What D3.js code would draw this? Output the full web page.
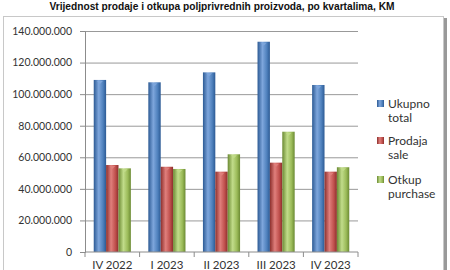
<!DOCTYPE html>
<html>
<head>
<meta charset="utf-8">
<script src="https://cdn.jsdelivr.net/npm/d3@7"></script>
<style>
body { margin: 0; background: #fff; }
text { font-family: Lato, "Open Sans", sans-serif; fill: #333; }
</style>
</head>
<body>
<div id="chart"></div>
<script>
// data
const quarters = ["IV 2022", "I 2023", "II 2023", "III 2023", "IV 2023"];
const ukupno = [109000000, 107500000, 113800000, 133200000, 105800000];
const prodaja = [55100000, 54000000, 50900000, 56600000, 50900000];
const otkup = [53000000, 52600000, 61900000, 76200000, 53700000];
const seriesNames = [["Ukupno", "total"], ["Prodaja", "sale"], ["Otkup", "purchase"]];
const yTicks = [0, 20000000, 40000000, 60000000, 80000000, 100000000, 120000000, 140000000];

const W = 450, H = 270;
const margin = {top: 31, left: 85, right: 92, bottom: 18};
const width = W - margin.left - margin.right;
const height = H - margin.top - margin.bottom;

const svg = d3.select("#chart").append("svg")
  .attr("width", W).attr("height", H);

// gradients for the cylinder look
const colors = [
  {id: "gBlue", base: "#4F81BD", dark: "#2c5a94", light: "#7ea6dc"},
  {id: "gRed", base: "#C0504D", dark: "#8c2f2c", light: "#e07f7c"},
  {id: "gGreen", base: "#9BBB59", dark: "#6b8a33", light: "#c1dc8a"}
];
const defs = svg.append("defs");
colors.forEach(c => {
  const g = defs.append("linearGradient").attr("id", c.id)
    .attr("x1", "0%").attr("x2", "100%").attr("y1", "0%").attr("y2", "0%");
  g.append("stop").attr("offset", "0%").attr("stop-color", c.dark);
  g.append("stop").attr("offset", "40%").attr("stop-color", c.light);
  g.append("stop").attr("offset", "75%").attr("stop-color", c.base);
  g.append("stop").attr("offset", "100%").attr("stop-color", c.dark);
});

// title
svg.append("text")
  .attr("x", 222).attr("y", 10)
  .attr("text-anchor", "middle")
  .attr("textLength", 345).attr("lengthAdjust", "spacingAndGlyphs")
  .style("font-family", "'Liberation Sans', Arial, sans-serif")
  .style("font-weight", "bold").style("font-size", "11px")
  .style("fill", "#111")
  .text("Vrijednost prodaje i otkupa poljprivrednih proizvoda, po kvartalima, KM");

// frame with shadow
svg.append("rect").attr("x", 444).attr("y", 18).attr("width", 3).attr("height", 260).attr("fill", "#999");
svg.append("rect").attr("x", 3.5).attr("y", 16.5).attr("width", 440).attr("height", 270)
  .attr("fill", "#fff").attr("stroke", "#c8c8c8");

const g = svg.append("g").attr("transform", `translate(${margin.left},${margin.top})`);

const x0 = d3.scaleBand().domain(quarters).range([0, width]).paddingInner(0.32).paddingOuter(0.16);
const x1 = d3.scaleBand().domain([0, 1, 2]).range([0, x0.bandwidth()]);
const y = d3.scaleLinear().domain([0, 140000000]).range([height, 0]);

// gridlines
g.append("g")
  .call(d3.axisLeft(y).tickValues(yTicks.slice(1)).tickSize(-width).tickFormat(""))
  .call(a => a.select(".domain").remove())
  .call(a => a.selectAll("line").attr("stroke", "#999"));

// y axis
const fmt = v => d3.format(",")(v).replace(/,/g, ".");
g.append("g")
  .call(d3.axisLeft(y).tickValues(yTicks).tickSize(5).tickPadding(8).tickFormat(fmt))
  .call(a => a.select(".domain").attr("stroke", "#8c8c8c"))
  .call(a => a.selectAll("line").attr("stroke", "#8c8c8c"))
  .call(a => a.selectAll("text").style("font-size", "10.5px").style("fill", "#333")
    .style("font-family", "Lato, 'Open Sans', sans-serif"));

// bars
const data = quarters.map((q, i) => ({q, vals: [ukupno[i], prodaja[i], otkup[i]]}));
const groups = g.selectAll(".grp").data(data).join("g")
  .attr("transform", d => `translate(${x0(d.q)},0)`);
groups.selectAll("rect").data(d => d.vals).join("rect")
  .attr("x", (d, i) => x1(i))
  .attr("y", d => y(d))
  .attr("width", x1.bandwidth())
  .attr("height", d => height - y(d))
  .attr("fill", (d, i) => `url(#${colors[i].id})`);
// small highlight on top of each bar
groups.selectAll("path").data(d => d.vals).join("path")
  .attr("d", (d, i) => {
    const cx = x1(i) + x1.bandwidth() * 0.5, ty = y(d) + 1;
    return `M${cx - 3},${ty}L${cx + 3},${ty}L${cx},${ty + 3}Z`;
  })
  .attr("fill", (d, i) => colors[i].light).attr("opacity", 0.9);

// x axis
g.append("line").attr("x1", 0).attr("x2", width).attr("y1", height).attr("y2", height).attr("stroke", "#8c8c8c");
g.selectAll(".xt").data(d3.range(quarters.length + 1)).join("line")
  .attr("x1", i => i * width / quarters.length).attr("x2", i => i * width / quarters.length)
  .attr("y1", height).attr("y2", height + 5).attr("stroke", "#8c8c8c");
g.selectAll(".xl").data(quarters).join("text")
  .attr("x", d => x0(d) + x0.bandwidth() / 2)
  .attr("y", height + 17)
  .attr("text-anchor", "middle")
  .style("font-size", "11.5px")
  .text(d => d);

// legend
const leg = svg.append("g").attr("transform", "translate(377,100)");
seriesNames.forEach((s, i) => {
  const yy = [0, 37, 76][i];
  leg.append("rect").attr("x", 0).attr("y", yy).attr("width", 7).attr("height", 7)
    .attr("fill", `url(#${colors[i].id})`);
  leg.append("text").attr("x", 11).attr("y", yy + 8).style("font-size", "12px").text(s[0]);
  leg.append("text").attr("x", 11).attr("y", yy + 22).style("font-size", "12px").text(s[1]);
});
</script>
</body>
</html>
